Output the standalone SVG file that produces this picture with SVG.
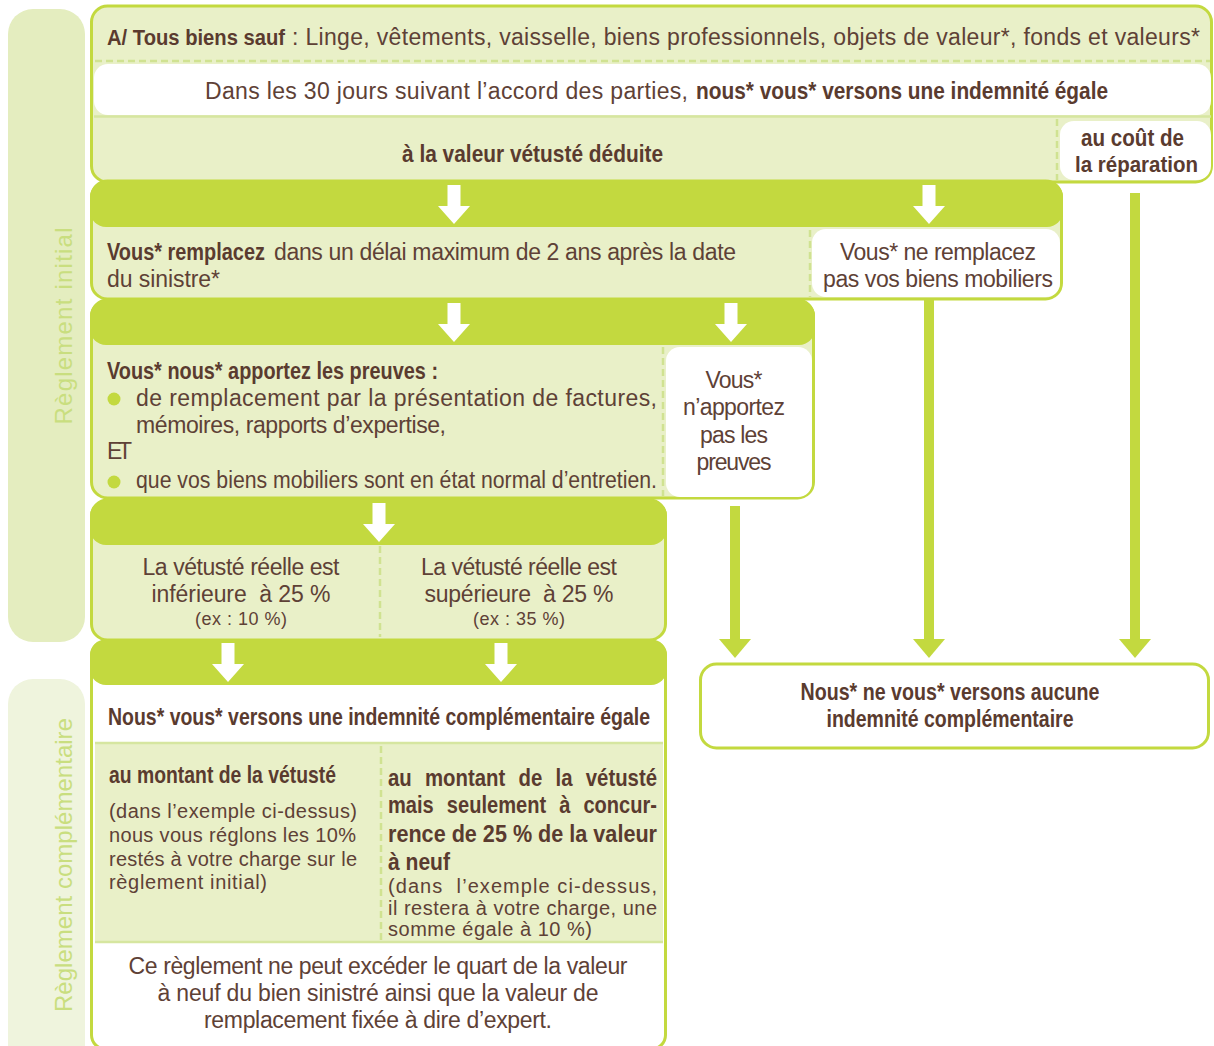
<svg xmlns="http://www.w3.org/2000/svg" width="1214" height="1046" viewBox="0 0 1214 1046">
<defs>
<style>
.g{fill:#c3d93f}
.box{fill:#e9f0c8;stroke:#c3d93f;stroke-width:3}
.wbox{fill:#ffffff;stroke:#c3d93f;stroke-width:3}
.wh{fill:#ffffff}
.dash{stroke:#d0e291;stroke-width:2.5;stroke-dasharray:7 4;fill:none}
.sep{stroke:#d6e6a0;stroke-width:2.5;fill:none}
.t{font-family:"Liberation Sans",Arial,sans-serif;font-size:23px;fill:#5e4136}
.ts{font-family:"Liberation Sans",Arial,sans-serif;font-size:20px;fill:#5e4136}
.tx{font-family:"Liberation Sans",Arial,sans-serif;font-size:18px;fill:#5e4136}
.b{font-family:"Liberation Sans Narrow","Liberation Sans",Arial,sans-serif;font-weight:bold;font-size:24px;fill:#5a3b2f}
.c{text-anchor:middle}
.side{font-family:"Liberation Sans",Arial,sans-serif;font-size:24px;fill:#c9de7f;text-anchor:middle}
.conn{stroke:#c3d93f;stroke-width:10;fill:none}
</style>
<path id="wa" d="M-6.5,0 H6.5 V21 H16 L0,39 L-16,21 H-6.5 Z" fill="#ffffff"/>
<marker id="ga" markerUnits="userSpaceOnUse" markerWidth="20" markerHeight="34" viewBox="0 -17 20 34" refX="0" refY="0" orient="auto">
<path d="M0,-16 L19,0 L0,16 Z" fill="#c3d93f"/>
</marker>
</defs>

<g id="side-initial">
<rect x="8" y="9" width="77" height="633" rx="25" fill="#e4edbf"/>
<text class="side" transform="translate(72,326) rotate(-90)" textLength="197">Règlement initial</text>
</g>
<g id="side-complementaire">
<rect x="8" y="679" width="77" height="420" rx="25" fill="#eff4dd"/>
<text class="side" transform="translate(72,865) rotate(-90)" textLength="294">Règlement complémentaire</text>
</g>

<g id="node-biens">
<rect class="box" x="91.5" y="6" width="1120" height="176" rx="16"/>
<text class="b" x="107" y="45" textLength="178" lengthAdjust="spacingAndGlyphs" style="font-size:22px">A/ Tous biens sauf</text>
<text class="t" x="292" y="45" textLength="908">: Linge, vêtements, vaisselle, biens professionnels, objets de valeur*, fonds et valeurs*</text>
<line class="dash" x1="95" y1="61" x2="1210" y2="61"/>
<rect class="wh" x="94" y="64" width="1117" height="51" rx="14"/>
<text class="t" x="205" y="99" textLength="483">Dans les 30 jours suivant l’accord des parties,</text>
<text class="b" x="696" y="99" textLength="412" lengthAdjust="spacingAndGlyphs">nous* vous* versons une indemnité égale</text>
<line class="sep" x1="94" y1="116.5" x2="1211" y2="116.5"/>
<text class="b" x="402" y="162" textLength="261" lengthAdjust="spacingAndGlyphs">à la valeur vétusté déduite</text>
<line class="dash" x1="1057" y1="119" x2="1057" y2="180"/>
<rect class="wh" x="1060" y="121" width="151" height="59" rx="14"/>
<text class="b" x="1081" y="146" textLength="103" lengthAdjust="spacingAndGlyphs" style="font-size:23px">au coût de</text>
<text class="b" x="1075" y="172" textLength="123" lengthAdjust="spacingAndGlyphs" style="font-size:22px">la réparation</text>
</g>

<g id="node-remplacez">
<rect class="box" x="91.5" y="181" width="970" height="118" rx="16"/>
<rect class="g" x="90" y="181" width="973" height="46" rx="16"/>
<use href="#wa" x="454" y="185"/>
<use href="#wa" x="929" y="185"/>
<text class="b" x="107" y="260" textLength="158" lengthAdjust="spacingAndGlyphs" style="font-size:23px">Vous* remplacez</text>
<text class="t" x="274" y="260" textLength="462">dans un délai maximum de 2 ans après la date</text>
<text class="t" x="107" y="287" textLength="113">du sinistre*</text>
<line class="dash" x1="810" y1="230" x2="810" y2="297"/>
<rect class="wh" x="812" y="229" width="248" height="68" rx="14"/>
<text class="t c" x="938" y="260" textLength="196">Vous* ne remplacez</text>
<text class="t c" x="938" y="287" textLength="230">pas vos biens mobiliers</text>
</g>

<g id="node-preuves">
<rect class="box" x="91.5" y="300" width="722" height="198" rx="16"/>
<rect class="g" x="90" y="300" width="725" height="45" rx="16"/>
<use href="#wa" x="454" y="303"/>
<use href="#wa" x="731" y="303"/>
<text class="b" x="107" y="379" textLength="331" lengthAdjust="spacingAndGlyphs">Vous* nous* apportez les preuves :</text>
<circle class="g" cx="114" cy="399" r="6.5"/>
<text class="t" x="136" y="406" textLength="521">de remplacement par la présentation de factures,</text>
<text class="t" x="136" y="433" textLength="310">mémoires, rapports d’expertise,</text>
<text class="t" x="107" y="459" textLength="25">ET</text>
<circle class="g" cx="114" cy="482" r="6.5"/>
<text class="t" x="136" y="488" textLength="521" lengthAdjust="spacingAndGlyphs">que vos biens mobiliers sont en état normal d’entretien.</text>
<line class="dash" x1="663" y1="347" x2="663" y2="496"/>
<rect class="wh" x="666" y="347" width="146" height="150" rx="14"/>
<text class="t c" x="734" y="388" textLength="57">Vous*</text>
<text class="t c" x="734" y="415" textLength="102">n’apportez</text>
<text class="t c" x="734" y="443" textLength="68">pas les</text>
<text class="t c" x="734" y="470" textLength="75">preuves</text>
</g>

<g id="node-vetuste">
<rect class="box" x="91.5" y="500" width="574" height="140" rx="16"/>
<rect class="g" x="90" y="500" width="577" height="45" rx="16"/>
<use href="#wa" x="379" y="503"/>
<line class="dash" x1="380" y1="546" x2="380" y2="637"/>
<text class="t c" x="241" y="575" textLength="197">La vétusté réelle est</text>
<text class="t c" x="241" y="602" textLength="179" xml:space="preserve">inférieure  à 25 %</text>
<text class="tx c" x="241" y="625" textLength="92">(ex : 10 %)</text>
<text class="t c" x="519" y="575" textLength="196">La vétusté réelle est</text>
<text class="t c" x="519" y="602" textLength="189" xml:space="preserve">supérieure  à 25 %</text>
<text class="tx c" x="519" y="625" textLength="92">(ex : 35 %)</text>
</g>

<g id="node-complementaire">
<rect class="wbox" x="91.5" y="641" width="574" height="408" rx="14"/>
<rect class="g" x="90" y="640" width="577" height="45" rx="16"/>
<use href="#wa" x="228" y="643"/>
<use href="#wa" x="501" y="643"/>
<text class="b" x="108" y="725" textLength="542" lengthAdjust="spacingAndGlyphs">Nous* vous* versons une indemnité complémentaire égale</text>
<rect x="95" y="743" width="568" height="199" fill="#e9f0c8"/>
<line class="sep" x1="95" y1="743" x2="663" y2="743"/>
<line class="sep" x1="95" y1="942" x2="663" y2="942"/>
<line class="dash" x1="381" y1="746" x2="381" y2="940"/>
<text class="b" x="109" y="783" textLength="227" lengthAdjust="spacingAndGlyphs">au montant de la vétusté</text>
<text class="ts" x="109" y="818" textLength="248">(dans l’exemple ci-dessus)</text>
<text class="ts" x="109" y="842" textLength="247">nous vous réglons les 10%</text>
<text class="ts" x="109" y="866" textLength="248">restés à votre charge sur le</text>
<text class="ts" x="109" y="889" textLength="158">règlement initial)</text>
<text class="b" x="388" y="786" style="word-spacing:9px" textLength="269" lengthAdjust="spacingAndGlyphs">au montant de la vétusté</text>
<text class="b" x="388" y="813" style="word-spacing:9px" textLength="269" lengthAdjust="spacingAndGlyphs">mais seulement à concur-</text>
<text class="b" x="388" y="842" textLength="269" lengthAdjust="spacingAndGlyphs">rence de 25 % de la valeur</text>
<text class="b" x="388" y="870" textLength="62" lengthAdjust="spacingAndGlyphs">à neuf</text>
<text class="ts" x="388" y="893" textLength="269" xml:space="preserve">(dans  l’exemple ci-dessus,</text>
<text class="ts" x="388" y="915" textLength="269">il restera à votre charge, une</text>
<text class="ts" x="388" y="936" textLength="204">somme égale à 10 %)</text>
<text class="t c" x="378" y="974" textLength="499">Ce règlement ne peut excéder le quart de la valeur</text>
<text class="t c" x="378" y="1001" textLength="441">à neuf du bien sinistré ainsi que la valeur de</text>
<text class="t c" x="378" y="1028" textLength="348">remplacement fixée à dire d’expert.</text>
</g>

<g id="node-aucune">
<rect class="wbox" x="700.5" y="664" width="508" height="84" rx="16"/>
<text class="b c" x="950" y="700" textLength="299" lengthAdjust="spacingAndGlyphs">Nous* ne vous* versons aucune</text>
<text class="b c" x="950" y="727" textLength="247" lengthAdjust="spacingAndGlyphs">indemnité complémentaire</text>
</g>

<g id="connectors">
<line class="conn" x1="1135" y1="193" x2="1135" y2="639" marker-end="url(#ga)"/>
<line class="conn" x1="929" y1="299" x2="929" y2="639" marker-end="url(#ga)"/>
<line class="conn" x1="735" y1="506" x2="735" y2="639" marker-end="url(#ga)"/>
</g>
</svg>
